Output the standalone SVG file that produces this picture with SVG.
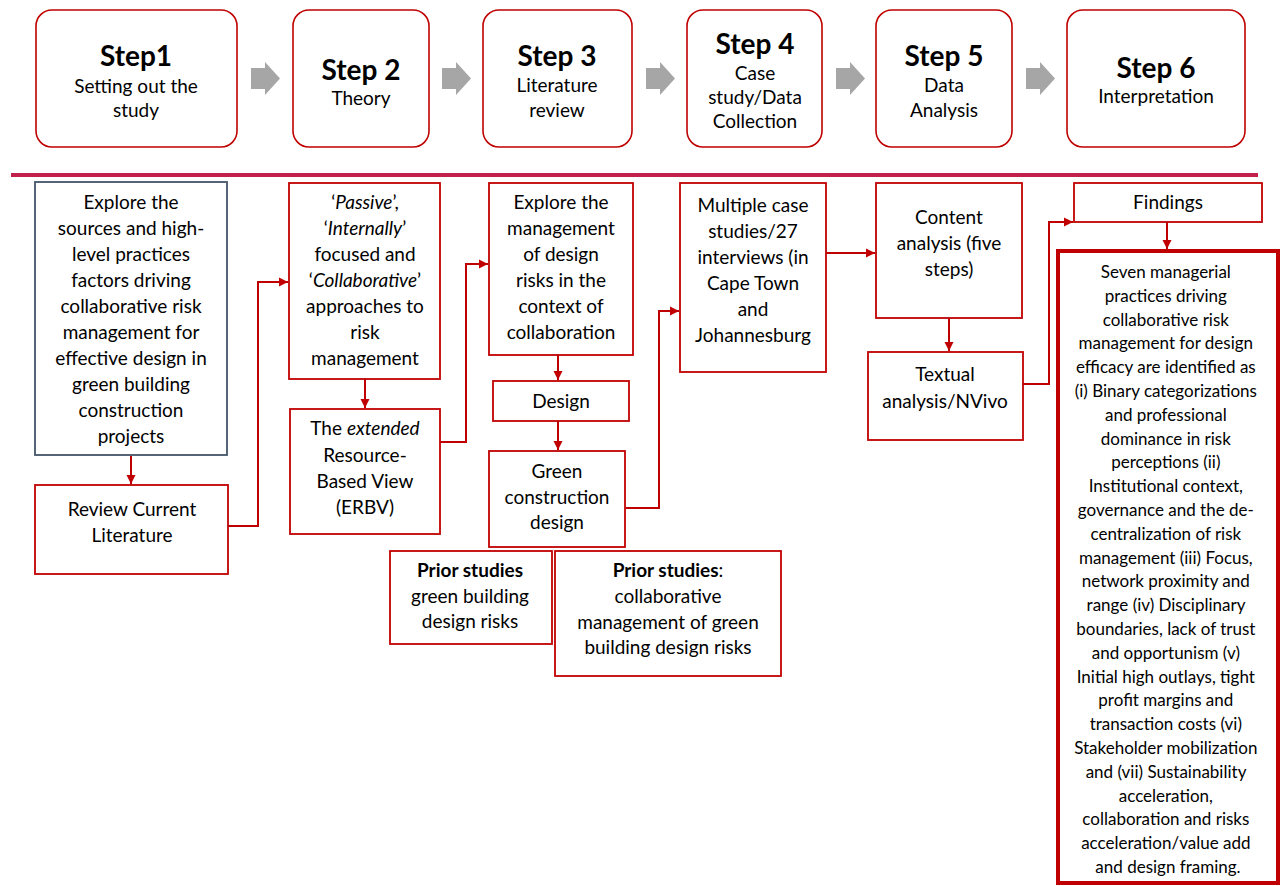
<svg xmlns="http://www.w3.org/2000/svg" width="1280" height="886" viewBox="0 0 1280 886">
<style>
.step{fill:#fff;stroke:#c00000;stroke-width:1.6}
.box{fill:#fff;stroke:#c00000;stroke-width:1.8}
.t{font-family:Lato,"Liberation Sans",sans-serif;font-size:19px;fill:#000;text-anchor:middle}
.h{font-family:Lato,"Liberation Sans",sans-serif;font-size:28px;font-weight:bold;fill:#000;text-anchor:middle}
.s{font-family:Lato,"Liberation Sans",sans-serif;font-size:17px;fill:#000;text-anchor:middle}
.c{fill:none;stroke:#c00000;stroke-width:2;marker-end:url(#ah)}
.g{fill:#a6a6a6}
</style>
<defs>
<marker id="ah" markerUnits="userSpaceOnUse" markerWidth="10" markerHeight="10" refX="9" refY="5" orient="auto">
<path d="M0,0.5 L9,5 L0,9.5 z" fill="#c00000"/>
</marker>
<path id="blk" d="M0,6 H14 V0 L29,16.5 L14,33 V27 H0 z"/>
</defs>

<g id="step1"><rect class="step" x="36" y="10" width="201" height="137" rx="16"/>
<text class="h" x="136" y="66">Step1</text>
<text class="t" x="136" y="93">Setting out the</text>
<text class="t" x="136" y="117">study</text></g>
<g id="step2"><rect class="step" x="293" y="10" width="136" height="137" rx="16"/>
<text class="h" x="361" y="80">Step 2</text>
<text class="t" x="361" y="105">Theory</text></g>
<g id="step3"><rect class="step" x="483" y="10" width="149" height="137" rx="16"/>
<text class="h" x="557" y="66">Step 3</text>
<text class="t" x="557" y="92">Literature</text>
<text class="t" x="557" y="117">review</text></g>
<g id="step4"><rect class="step" x="687" y="10" width="135" height="137" rx="16"/>
<text class="h" x="755" y="54">Step 4</text>
<text class="t" x="755" y="80">Case</text>
<text class="t" x="755" y="104">study/Data</text>
<text class="t" x="755" y="128">Collection</text></g>
<g id="step5"><rect class="step" x="876" y="10" width="136" height="137" rx="16"/>
<text class="h" x="944" y="66">Step 5</text>
<text class="t" x="944" y="92">Data</text>
<text class="t" x="944" y="117">Analysis</text></g>
<g id="step6"><rect class="step" x="1067" y="10" width="178" height="137" rx="16"/>
<text class="h" x="1156" y="78">Step 6</text>
<text class="t" x="1156" y="103">Interpretation</text></g>

<g id="blockarrows">
<use href="#blk" class="g" x="251" y="62"/>
<use href="#blk" class="g" x="442" y="62"/>
<use href="#blk" class="g" x="646" y="62"/>
<use href="#blk" class="g" x="836" y="62"/>
<use href="#blk" class="g" x="1026" y="62"/>
</g>

<line id="divider" x1="11" y1="175" x2="1258" y2="175" stroke="#c0204a" stroke-width="4"/>

<g id="explore"><rect x="35" y="182" width="192" height="273" fill="#fff" stroke="#44546a" stroke-width="1.8"/>
<text class="t" x="131" y="209">Explore the</text>
<text class="t" x="131" y="235">sources and high-</text>
<text class="t" x="131" y="261">level practices</text>
<text class="t" x="131" y="287">factors driving</text>
<text class="t" x="131" y="313">collaborative risk</text>
<text class="t" x="131" y="339">management for</text>
<text class="t" x="131" y="365">effective design in</text>
<text class="t" x="131" y="391">green building</text>
<text class="t" x="131" y="417">construction</text>
<text class="t" x="131" y="443">projects</text></g>

<g id="review"><rect class="box" x="35" y="485" width="193" height="89"/>
<text class="t" x="132" y="516">Review Current</text>
<text class="t" x="132" y="542">Literature</text></g>

<g id="approaches"><rect class="box" x="289" y="183" width="151" height="196"/>
<text class="t" x="365" y="209">‘<tspan font-style="italic">Passive</tspan>’,</text>
<text class="t" x="365" y="235">‘<tspan font-style="italic">Internally</tspan>’</text>
<text class="t" x="365" y="261">focused and</text>
<text class="t" x="365" y="287">‘<tspan font-style="italic">Collaborative</tspan>’</text>
<text class="t" x="365" y="313">approaches to</text>
<text class="t" x="365" y="339">risk</text>
<text class="t" x="365" y="365">management</text></g>

<g id="erbv"><rect class="box" x="290" y="409" width="150" height="125"/>
<text class="t" x="365" y="435">The <tspan font-style="italic">extended</tspan></text>
<text class="t" x="365" y="462">Resource-</text>
<text class="t" x="365" y="488">Based View</text>
<text class="t" x="365" y="514">(ERBV)</text></g>

<g id="explore-mgmt"><rect class="box" x="489" y="183" width="144" height="172"/>
<text class="t" x="561" y="209">Explore the</text>
<text class="t" x="561" y="235">management</text>
<text class="t" x="561" y="261">of design</text>
<text class="t" x="561" y="287">risks in the</text>
<text class="t" x="561" y="313">context of</text>
<text class="t" x="561" y="339">collaboration</text></g>

<g id="design"><rect class="box" x="493" y="381" width="136" height="40"/>
<text class="t" x="561" y="408">Design</text></g>

<g id="green"><rect class="box" x="489" y="451" width="136" height="96"/>
<text class="t" x="557" y="478">Green</text>
<text class="t" x="557" y="504">construction</text>
<text class="t" x="557" y="529">design</text></g>

<g id="prior1"><rect class="box" x="390" y="551" width="162" height="93"/>
<text class="t" x="470" y="577" font-weight="bold">Prior studies</text>
<text class="t" x="470" y="603">green building</text>
<text class="t" x="470" y="628">design risks</text></g>

<g id="prior2"><rect class="box" x="555" y="551" width="226" height="125"/>
<text class="t" x="668" y="577"><tspan font-weight="bold">Prior studies</tspan>:</text>
<text class="t" x="668" y="603">collaborative</text>
<text class="t" x="668" y="629">management of green</text>
<text class="t" x="668" y="654">building design risks</text></g>

<g id="multiple"><rect class="box" x="680" y="183" width="146" height="189"/>
<text class="t" x="753" y="212">Multiple case</text>
<text class="t" x="753" y="238">studies/27</text>
<text class="t" x="753" y="264">interviews (in</text>
<text class="t" x="753" y="290">Cape Town</text>
<text class="t" x="753" y="316">and</text>
<text class="t" x="753" y="342">Johannesburg</text></g>

<g id="content"><rect class="box" x="876" y="183" width="146" height="135"/>
<text class="t" x="949" y="224">Content</text>
<text class="t" x="949" y="250">analysis (five</text>
<text class="t" x="949" y="276">steps)</text></g>

<g id="textual"><rect class="box" x="868" y="352" width="155" height="88"/>
<text class="t" x="945" y="381">Textual</text>
<text class="t" x="945" y="408">analysis/NVivo</text></g>

<g id="findings"><rect class="box" x="1074" y="183" width="188" height="39"/>
<text class="t" x="1168" y="209">Findings</text></g>

<g id="result"><rect x="1058" y="251" width="220" height="632" fill="#fff" stroke="#c00000" stroke-width="4"/>
<text class="s">
<tspan x="1168" y="278">Seven managerial</tspan>
<tspan x="1168" dy="23.8">practices driving</tspan>
<tspan x="1168" dy="23.8">collaborative risk</tspan>
<tspan x="1168" dy="23.8">management for design</tspan>
<tspan x="1168" dy="23.8">efficacy are identified as</tspan>
<tspan x="1168" dy="23.8">(i) Binary categorizations</tspan>
<tspan x="1168" dy="23.8">and professional</tspan>
<tspan x="1168" dy="23.8">dominance in risk</tspan>
<tspan x="1168" dy="23.8">perceptions (ii)</tspan>
<tspan x="1168" dy="23.8">Institutional context,</tspan>
<tspan x="1168" dy="23.8">governance and the de-</tspan>
<tspan x="1168" dy="23.8">centralization of risk</tspan>
<tspan x="1168" dy="23.8">management (iii) Focus,</tspan>
<tspan x="1168" dy="23.8">network proximity and</tspan>
<tspan x="1168" dy="23.8">range (iv) Disciplinary</tspan>
<tspan x="1168" dy="23.8">boundaries, lack of trust</tspan>
<tspan x="1168" dy="23.8">and opportunism (v)</tspan>
<tspan x="1168" dy="23.8">Initial high outlays, tight</tspan>
<tspan x="1168" dy="23.8">profit margins and</tspan>
<tspan x="1168" dy="23.8">transaction costs (vi)</tspan>
<tspan x="1168" dy="23.8">Stakeholder mobilization</tspan>
<tspan x="1168" dy="23.8">and (vii) Sustainability</tspan>
<tspan x="1168" dy="23.8">acceleration,</tspan>
<tspan x="1168" dy="23.8">collaboration and risks</tspan>
<tspan x="1168" dy="23.8">acceleration/value add</tspan>
<tspan x="1168" dy="23.8">and design framing.</tspan>
</text></g>

<g id="connectors">
<path class="c" d="M131,456 V484"/>
<path class="c" d="M228,526 H258 V282 H288"/>
<path class="c" d="M365,379 V408"/>
<path class="c" d="M440,442 H466 V264 H488"/>
<path class="c" d="M558,355 V380"/>
<path class="c" d="M558,421 V450"/>
<path class="c" d="M626,508 H659 V311 H679"/>
<path class="c" d="M826,253 H875"/>
<path class="c" d="M949,318 V351"/>
<path class="c" d="M1023,384 H1049 V222 H1073"/>
<path class="c" d="M1167,222 V249"/>
</g>
</svg>
